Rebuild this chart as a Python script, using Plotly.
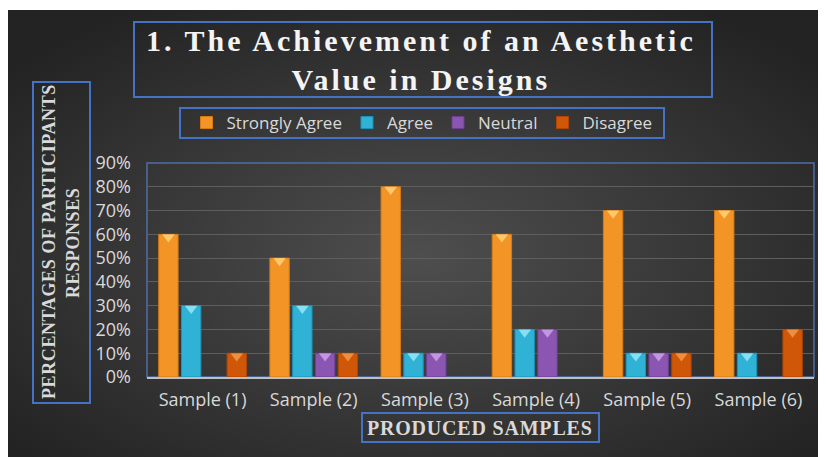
import base64
import plotly.graph_objects as go

# chart data
samples = ["Sample (1)", "Sample (2)", "Sample (3)", "Sample (4)", "Sample (5)", "Sample (6)"]
strongly_agree = [0.6, 0.5, 0.8, 0.6, 0.7, 0.7]
agree = [0.3, 0.3, 0.1, 0.2, 0.1, 0.1]
neutral = [0.0, 0.1, 0.1, 0.2, 0.1, 0.0]
disagree = [0.1, 0.1, 0.0, 0.0, 0.1, 0.2]
y_ticks = [0, 0.1, 0.2, 0.3, 0.4, 0.5, 0.6, 0.7, 0.8, 0.9]

# name, values, bar colour, edge colour, bevel colour
series = [
    ("Strongly Agree", strongly_agree, "#f39426", "#d97a12", "#ffd47e"),
    ("Agree", agree, "#2fb2d6", "#1d93b6", "#9ceafa"),
    ("Neutral", neutral, "#8a56b2", "#6e3f96", "#cfa6ec"),
    ("Disagree", disagree, "#d15708", "#b04604", "#f59c4e"),
]

# the page body adds 8px around the figure
OFF = 8
W, H = 826 - OFF, 457 - OFF
L, R, T, B = 147 - OFF, 12, 163 - OFF, 80
PW, PH = W - L - R, H - T - B
YMAX = 0.9


def px(x):
    return (x - 147) / PW


def py(y):
    return (377 - y) / PH


def spaced(text, sp):
    return '<span style="letter-spacing:%spx"><b>%s</b></span>' % (sp, text)


fig = go.Figure()
for name, vals, col, edge, _ in series:
    fig.add_trace(go.Bar(
        x=samples, y=[v if v > 0 else None for v in vals], name=name,
        marker=dict(color=col, line=dict(color=edge, width=1)),
    ))

# light bevel on top of each bar
BEV = 11
shift = (BEV / 4) * YMAX / PH
for name, vals, col, edge, bev in series:
    fig.add_trace(go.Scatter(
        x=samples, y=[v - shift if v > 0 else None for v in vals], mode="markers",
        marker=dict(symbol="triangle-down", size=BEV, color=bev, opacity=0.8, line=dict(width=0)),
        showlegend=False, hoverinfo="skip",
    ))

# dark radial background
svg = (
    '<svg xmlns="http://www.w3.org/2000/svg" width="819" height="447" '
    'preserveAspectRatio="none" viewBox="0 0 819 447">'
    '<defs><radialGradient id="g" cx="50%" cy="55%" r="65%">'
    '<stop offset="0" stop-color="#4e4e4e"/><stop offset="1" stop-color="#232323"/>'
    '</radialGradient></defs><rect width="819" height="447" fill="url(#g)"/></svg>'
)
src = "data:image/svg+xml;base64," + base64.b64encode(svg.encode()).decode()
fig.add_layout_image(dict(
    source=src, xref="paper", yref="paper", x=px(OFF), y=py(10),
    sizex=(826 - OFF) / PW, sizey=(457 - 10) / PH, sizing="stretch",
    xanchor="left", yanchor="top", layer="below",
))

box = dict(type="rect", xref="paper", yref="paper", layer="below",
           line=dict(color="#4472c4", width=2), fillcolor="rgba(0,0,0,0)")
for x0, y0, x1, y1 in [(134, 22, 712, 97), (180, 108, 664, 138),
                       (33, 82, 90, 403), (362, 413, 599, 442)]:
    fig.add_shape(box, x0=px(x0), x1=px(x1), y0=py(y1), y1=py(y0))
fig.add_shape(type="rect", xref="paper", yref="paper", layer="below",
              x0=0, x1=1, y0=0, y1=1, line=dict(color="#4d6ea6", width=1.5))

serif = "Liberation Serif"
ann = dict(xref="paper", yref="paper", showarrow=False, xanchor="center", yanchor="middle")
fig.add_annotation(ann, x=px(421), y=py(60),
                   text=spaced("1. The Achievement of an Aesthetic", 3) + "<br>" + spaced("Value in Designs", 3),
                   font=dict(family=serif, size=30, color="#f4f4f4"))
fig.add_annotation(ann, x=px(49), y=py(241), text=spaced("PERCENTAGES OF PARTICIPANTS", 0.6),
                   textangle=-90, font=dict(family=serif, size=18, color="#d9d9d9"))
fig.add_annotation(ann, x=px(73), y=py(243), text=spaced("RESPONSES", 0.6),
                   textangle=-90, font=dict(family=serif, size=18, color="#d9d9d9"))
fig.add_annotation(ann, x=px(480), y=py(428), text=spaced("PRODUCED SAMPLES", 0.8),
                   font=dict(family=serif, size=20, color="#d9d9d9"))

fig.update_layout(
    width=W, height=H,
    margin=dict(l=L, r=R, t=T, b=B),
    paper_bgcolor="white", plot_bgcolor="rgba(0,0,0,0)",
    barmode="group", bargap=0.18, bargroupgap=0.15,
    scattermode="group", scattergap=0.18,
    font=dict(family="Open Sans", size=18, color="#d9d9d9"),
    legend=dict(orientation="h", x=px(422), y=py(123), xanchor="center", yanchor="middle",
                bgcolor="rgba(0,0,0,0)", font=dict(size=17, color="#d9d9d9")),
    xaxis=dict(showgrid=False, showline=True, linecolor="#bfbfbf", linewidth=2,
               ticks="", ticklabelstandoff=5),
    yaxis=dict(range=[0, YMAX], tickvals=y_ticks, tickformat=".0%", showgrid=True,
               gridcolor="#5e5e5e", gridwidth=1, zeroline=False, showline=False,
               ticks="", ticklabelstandoff=15),
)

fig.write_html("out.html")
